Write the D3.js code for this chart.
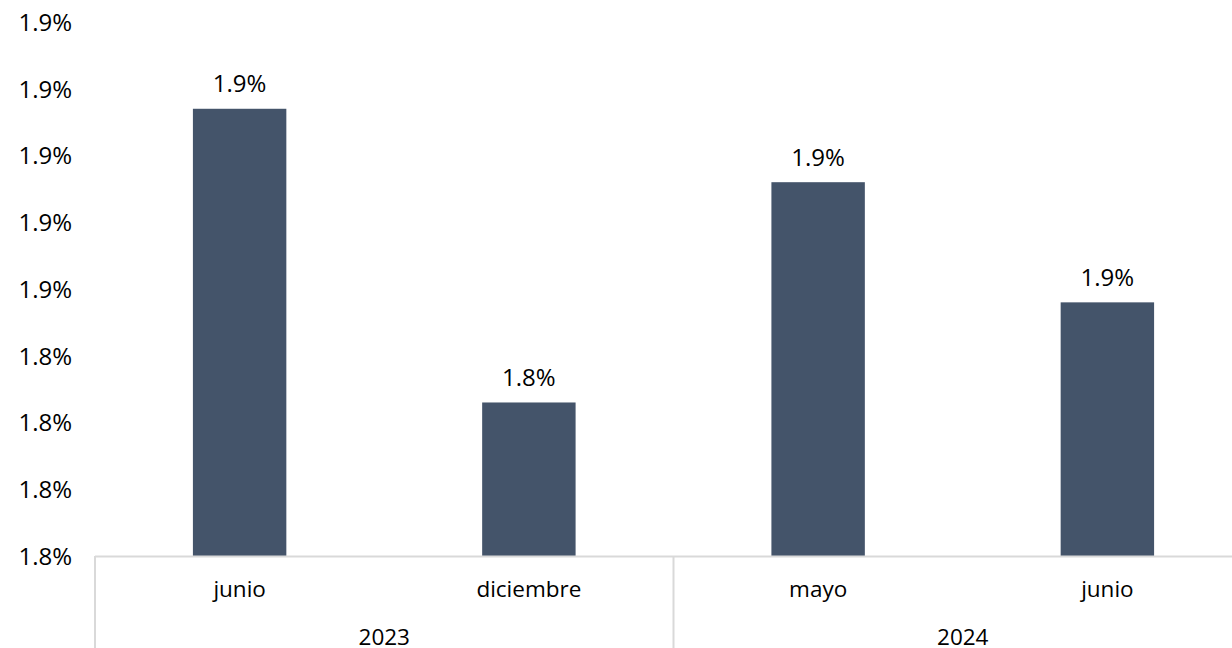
<!DOCTYPE html>
<html>
<head>
<meta charset="utf-8">
<script src="https://cdn.jsdelivr.net/npm/d3@7"></script>
<style>
  html, body { margin: 0; padding: 0; background: #fff; }
  svg { display: block; }
  text { font-family: "Open Sans", sans-serif; fill: #000; }
</style>
</head>
<body>
<svg id="chart" width="1232" height="648"></svg>
<script>
// ---- data ----
const categories = ["junio", "diciembre", "mayo", "junio"];
const groups = ["2023", "2023", "2024", "2024"];
const groupNames = ["2023", "2024"];
const values = [1.914, 1.826, 1.892, 1.856];
const yTicks = [1.78, 1.80, 1.82, 1.84, 1.86, 1.88, 1.90, 1.92, 1.94];

(function () {
// ---- layout ----
const W = 1232, H = 648;
const plotL = 95, plotR = 1252, plotT = 22, plotB = 556;
const svg = d3.select("#chart");

const x = d3.scaleBand()
  .domain(d3.range(categories.length))
  .range([plotL, plotR])
  .paddingInner(0.677)
  .paddingOuter(0.3385);

const y = d3.scaleLinear()
  .domain([d3.min(yTicks), d3.max(yTicks)])
  .range([plotB, plotT]);

const fmt = d => d3.format(".1f")(d) + "%";

// y axis labels (no line)
const yAxis = d3.axisLeft(y).tickValues(yTicks).tickFormat(fmt).tickSize(0).tickPadding(0);
const gy = svg.append("g").attr("transform", "translate(72,0)").call(yAxis);
gy.select(".domain").remove();
gy.selectAll("text")
  .attr("font-family", "'Open Sans', sans-serif")
  .attr("font-size", 24)
  .attr("fill", "#000")
  .attr("dy", "0.35em");

// bars
svg.append("g").selectAll("rect")
  .data(values)
  .join("rect")
  .attr("x", (d, i) => x(i))
  .attr("width", x.bandwidth())
  .attr("y", d => y(d))
  .attr("height", d => y(y.domain()[0]) - y(d))
  .attr("fill", "#44546A");

// value labels
svg.append("g").selectAll("text")
  .data(values)
  .join("text")
  .attr("x", (d, i) => x(i) + x.bandwidth() / 2)
  .attr("y", d => y(d) - 25)
  .attr("dy", "0.35em")
  .attr("text-anchor", "middle")
  .attr("font-size", 24)
  .text(fmt);

// category axis line
const lineColor = "#D9D9D9";
svg.append("line")
  .attr("x1", plotL).attr("x2", W)
  .attr("y1", plotB + 0.5).attr("y2", plotB + 0.5)
  .attr("stroke", lineColor).attr("stroke-width", 2);

// group separators: at left edge and between groups
const step = x.step();
const groupBounds = groupNames.map(g => {
  const idx = groups.map((v, i) => v === g ? i : -1).filter(i => i >= 0);
  const x0 = plotL + step * d3.min(idx);
  const x1 = plotL + step * (d3.max(idx) + 1);
  return { name: g, x0, x1 };
});
svg.append("g").selectAll("line")
  .data(groupBounds)
  .join("line")
  .attr("x1", d => d.x0).attr("x2", d => d.x0)
  .attr("y1", plotB).attr("y2", H)
  .attr("stroke", lineColor).attr("stroke-width", 2);

// category labels
svg.append("g").selectAll("text")
  .data(categories)
  .join("text")
  .attr("x", (d, i) => x(i) + x.bandwidth() / 2)
  .attr("y", 597)
  .attr("text-anchor", "middle")
  .attr("font-size", 22.5)
  .text(d => d);

// group labels
svg.append("g").selectAll("text")
  .data(groupBounds)
  .join("text")
  .attr("x", d => (d.x0 + d.x1) / 2)
  .attr("y", 645)
  .attr("text-anchor", "middle")
  .attr("font-size", 22.5)
  .text(d => d.name);
})();
</script>
</body>
</html>
